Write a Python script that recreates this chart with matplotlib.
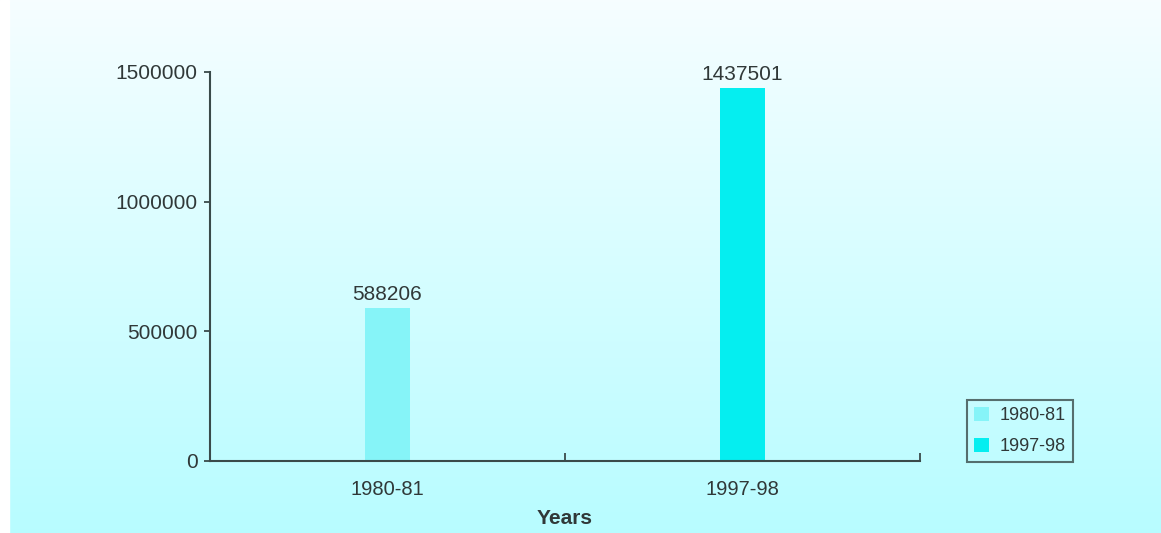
import matplotlib.pyplot as plt
import numpy as np

years = ['1980-81', '1997-98']
values = [588206, 1437501]
bar_colors = ['#86f4f8', '#05eef0']
y_ticks = [0, 500000, 1000000, 1500000]

plt.rcParams['font.family'] = ['Liberation Sans', 'DejaVu Sans']
txt = '#303838'

fig = plt.figure(figsize=(11.61, 5.33), dpi=100)

# background gradient, light at top, cyan at bottom
bg = fig.add_axes([0, 0, 1, 1], zorder=-10)
grad = np.linspace(0, 1, 256).reshape(-1, 1)
top = np.array([0.965, 0.996, 1.0])
bot = np.array([0.72, 0.99, 1.0])
img = top + (bot - top) * grad[:, :, None] * np.ones((1, 1, 3))
bg.imshow(img, aspect='auto', extent=[0, 1, 0, 1], origin='upper')
bg.axvspan(0, 9 / 1161, color='white')
bg.set_xlim(0, 1)
bg.set_ylim(0, 1)
bg.axis('off')

ax = fig.add_axes([210 / 1161, 1 - 461 / 533, 710 / 1161, 389 / 533])
ax.patch.set_alpha(0)
x = np.arange(len(years))
bars = ax.bar(x, values, width=0.124, color=bar_colors, label=years)
for xi, v in zip(x, values):
    ax.text(xi, v + 18000, str(v), ha='center', va='bottom', fontsize=15, color=txt)

ax.set_xlim(-0.5, 1.5)
ax.set_ylim(0, 1500000)
ax.set_yticks(y_ticks)
ax.set_yticklabels([str(t) for t in y_ticks])
ax.set_xticks(x)
ax.set_xticklabels(years)
ax.set_xticks([0.5, 1.5], minor=True)
ax.tick_params(axis='x', which='major', length=0, pad=14, labelsize=14.5, labelcolor=txt)
ax.tick_params(axis='x', which='minor', direction='in', length=6, width=1.3, color='#3a4a4a')
ax.tick_params(axis='y', direction='out', length=4, width=1.3, color='#3a4a4a',
               labelsize=15, labelcolor=txt, pad=5)
for s in ['top', 'right']:
    ax.spines[s].set_visible(False)
for s in ['left', 'bottom']:
    ax.spines[s].set_color('#3a4a4a')
    ax.spines[s].set_linewidth(1.5)

ax.set_xlabel('Years', fontsize=15, fontweight='bold', color=txt, labelpad=7)

leg = ax.legend(handles=bars.patches, labels=years, loc='upper left',
                bbox_to_anchor=(967 / 1161, 1 - 400 / 533), bbox_transform=fig.transFigure,
                frameon=True, fancybox=False, fontsize=13, handlelength=0.8,
                handleheight=0.8, handletextpad=0.6, borderpad=0.4, labelspacing=0.75,
                borderaxespad=0)
leg.get_frame().set_edgecolor('#3a4a4a')
leg.get_frame().set_linewidth(1.5)
leg.get_frame().set_facecolor('none')
for t in leg.get_texts():
    t.set_color(txt)

fig.savefig('out.png', dpi=100)
